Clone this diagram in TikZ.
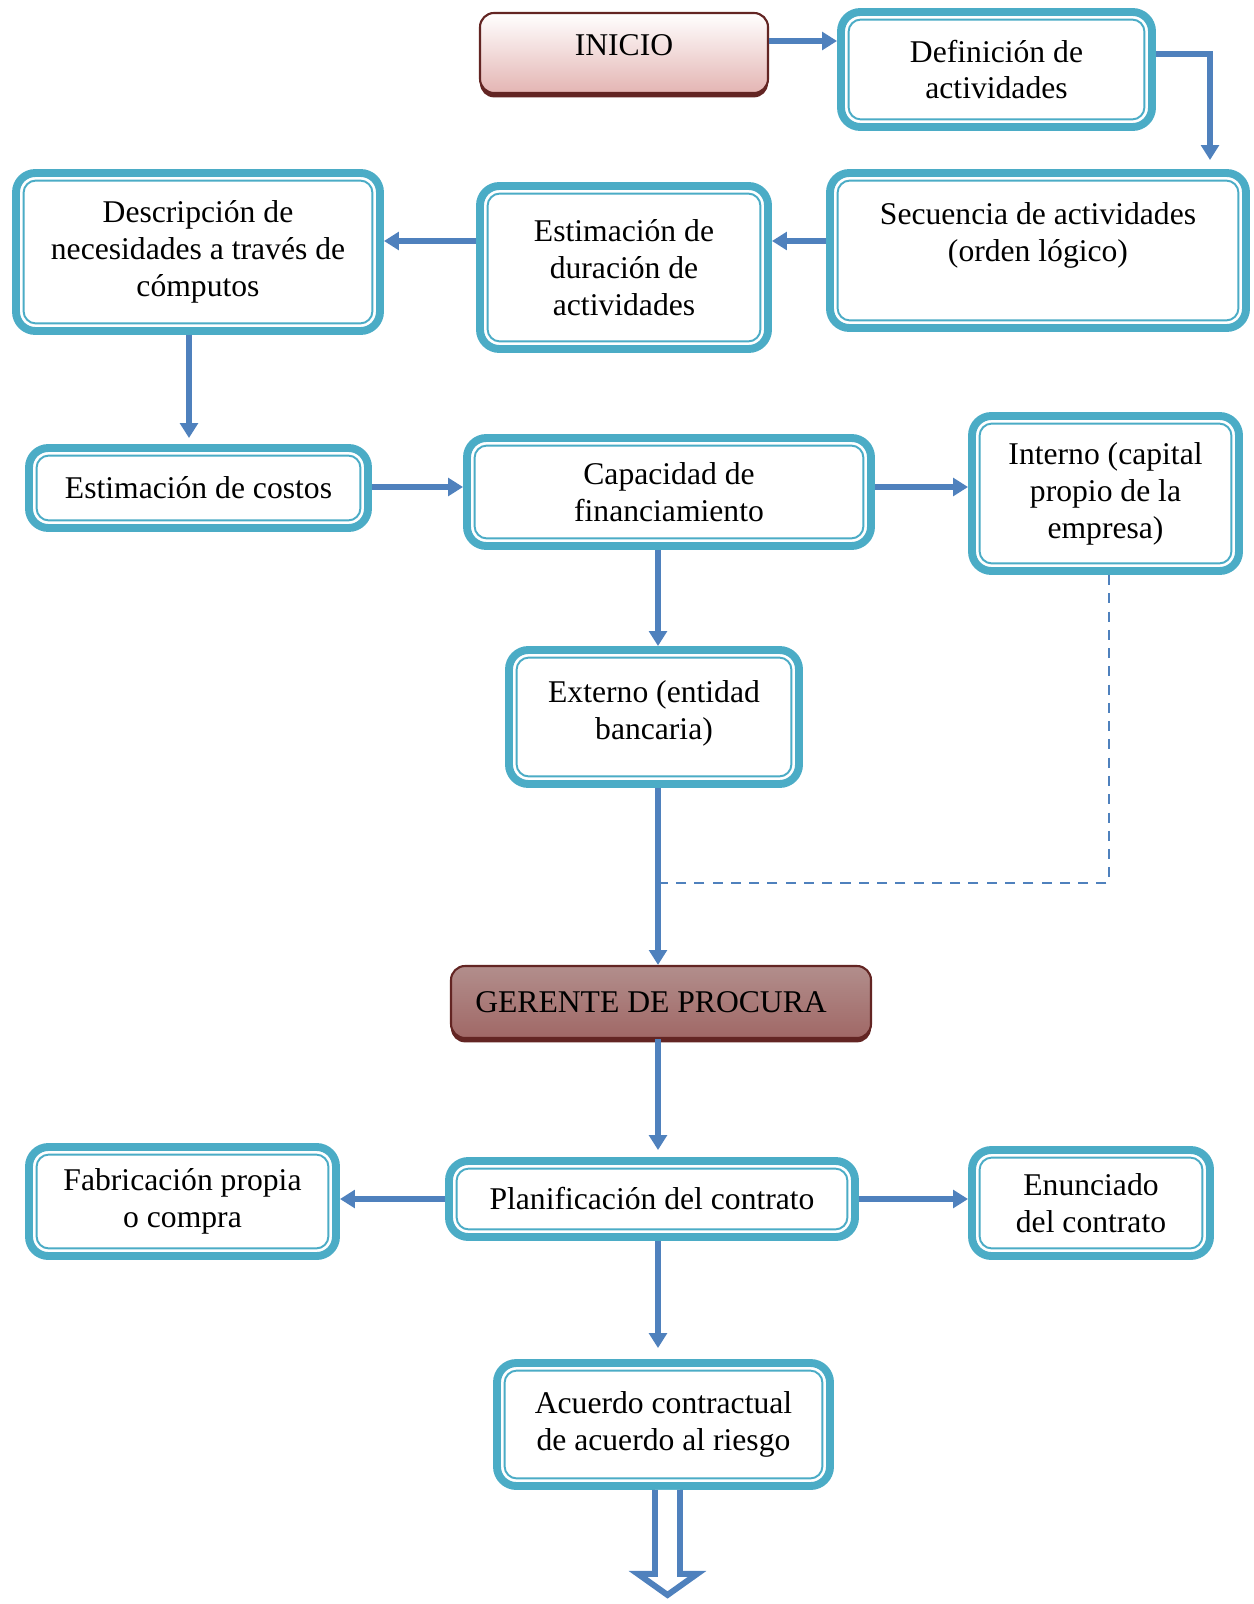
\documentclass[tikz,border=0pt]{standalone}
\usepackage{fontspec}
\setmainfont{Liberation Serif}
\usepackage{xcolor}
\usepackage{tikz}
\usetikzlibrary{arrows.meta,positioning,shadows,calc}
\definecolor{boxteal}{RGB}{75,172,198}
\definecolor{flowblue}{RGB}{79,129,189}
\definecolor{boxred}{RGB}{99,37,35}
\definecolor{inipink}{RGB}{228,181,179}
\definecolor{gertop}{RGB}{178,142,140}
\definecolor{gerbot}{RGB}{160,104,102}

\begin{document}
\begin{tikzpicture}[
    tealbox/.style={draw=boxteal, line width=4.5pt, rounded corners=11pt, fill=white, align=center,
        font=\fontsize{18}{21}\selectfont,
        path picture={\draw[boxteal, line width=1.1pt, rounded corners=7pt]
            ([shift={(4.3pt,4.3pt)}]path picture bounding box.south west) rectangle ([shift={(-4.3pt,-4.3pt)}]path picture bounding box.north east);}},
    redbox/.style={draw=boxred, line width=1.2pt, rounded corners=8pt, align=center,
        font=\fontsize{18}{21}\selectfont,
        drop shadow={shadow xshift=0pt, shadow yshift=-2.5pt, fill=boxred, opacity=1}},
    flow/.style={draw=flowblue, line width=3.4pt, -{Triangle[length=8.5pt,width=10pt]}},
    dashlink/.style={draw=flowblue, line width=1.5pt, dash pattern=on 5.7pt off 4.7pt},
    hollow/.style={draw=flowblue, line width=3.4pt, fill=white, line join=miter}
]
\useasboundingbox (0,0) rectangle (25.06,-32.08);

\node[redbox, top color=white, bottom color=inipink, minimum width=5.76cm, minimum height=1.6cm] (ini) at (12.48,-1.06) {INICIO\\[-12pt]\mbox{}};
\node[tealbox, minimum width=6.22cm, minimum height=2.30cm] (def) at (19.93,-1.39) {Definición de\\actividades};
\node[tealbox, minimum width=8.32cm, minimum height=3.10cm] (sec) at (20.76,-5.01) {Secuencia de actividades\\(orden lógico)\\\mbox{}};
\node[tealbox, minimum width=5.76cm, minimum height=3.26cm] (dur) at (12.48,-5.35) {Estimación de\\duración de\\actividades};
\node[tealbox, minimum width=7.28cm, minimum height=3.16cm] (desc) at (3.96,-5.04) {Descripción de\\necesidades a través de\\cómputos};
\node[tealbox, minimum width=6.78cm, minimum height=1.60cm] (cost) at (3.97,-9.76) {Estimación de costos};
\node[tealbox, minimum width=8.08cm, minimum height=2.16cm] (cap) at (13.38,-9.84) {Capacidad de\\financiamiento};
\node[tealbox, minimum width=5.34cm, minimum height=3.10cm] (int) at (22.11,-9.87) {Interno (capital\\propio de la\\empresa)};
\node[tealbox, minimum width=5.80cm, minimum height=2.68cm] (ext) at (13.08,-14.34) {Externo (entidad\\bancaria)\\[-13pt]\mbox{}};
\node[redbox, top color=gertop, bottom color=gerbot, minimum width=8.40cm, minimum height=1.44cm] (ger) at (13.22,-20.04) {GERENTE DE PROCURA\hspace{0.4cm}};
\node[tealbox, minimum width=8.12cm, minimum height=1.52cm] (plan) at (13.04,-23.98) {Planificación del contrato};
\node[tealbox, minimum width=6.14cm, minimum height=2.18cm] (fab) at (3.65,-24.03) {Fabricación propia\\o compra};
\node[tealbox, minimum width=4.76cm, minimum height=2.12cm] (enun) at (21.82,-24.06) {Enunciado\\del contrato};
\node[tealbox, minimum width=6.66cm, minimum height=2.46cm] (acu) at (13.27,-28.49) {Acuerdo contractual\\de acuerdo al riesgo};

\coordinate (spine) at (13.16,0);
\coordinate (dcorner) at (22.18,-17.66);
\coordinate (tail) at ([xshift=0.08cm]acu.south);

\draw[flow] ([yshift=0.24cm]ini.east) -- ([yshift=0.24cm]ini.east -| def.west);
\draw[flow, shorten >=0.18cm] ([yshift=0.31cm]def.east) -| ([xshift=3.44cm]sec.north);
\draw[flow] (sec.west |- 0,-4.82) -- (dur.east |- 0,-4.82);
\draw[flow] (dur.west |- 0,-4.82) -- (desc.east |- 0,-4.82);
\draw[flow, shorten >=0.12cm] (desc.south -| 3.78,0) -- (cost.north -| 3.78,0);
\draw[flow] (cost.east |- 0,-9.74) -- (cap.west |- 0,-9.74);
\draw[flow] (cap.east |- 0,-9.74) -- (int.west |- 0,-9.74);
\draw[flow] (spine |- cap.south) -- (spine |- ext.north);
\draw[flow] (spine |- ext.south) -- (spine |- ger.north);
\draw[flow, shorten >=0.14cm] (spine |- ger.south) -- (spine |- plan.north);
\draw[flow] (plan.west |- 0,-23.98) -- (fab.east |- 0,-23.98);
\draw[flow] (plan.east |- 0,-23.98) -- (enun.west |- 0,-23.98);
\draw[flow, shorten >=0.22cm] (spine |- plan.south) -- (spine |- acu.north);
\draw[dashlink] (int.south -| dcorner) -- (dcorner) -- (dcorner -| spine);

\draw[hollow, shift={(tail)}] (-0.25,0) -- (-0.25,-1.68) -- (-0.59,-1.68) -- (0,-2.10) -- (0.59,-1.68) -- (0.25,-1.68) -- (0.25,0);
\end{tikzpicture}
\end{document}
